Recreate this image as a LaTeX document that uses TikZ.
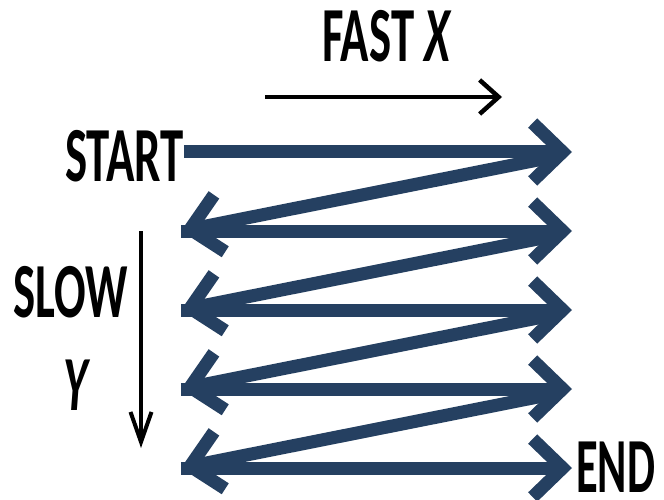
\documentclass[tikz,border=0pt]{standalone}
\usepackage{fontspec}
\setmainfont{Carlito}
\usetikzlibrary{arrows.meta}
\definecolor{scannavy}{RGB}{37,64,97}
\tikzset{>=latex,
  scanline/.style={scannavy,line width=13pt,
    -{Straight Barb[sharp,length=30pt,width=58pt]}},
  fastaxis/.style={black,line width=4.5pt,
    -{Straight Barb[sharp,length=19pt,width=34pt]}},
  slowaxis/.style={black,line width=4pt,
    -{Straight Barb[sharp,length=30pt,width=21pt]}},
  lbl/.style={font=\fontsize{78}{93}\selectfont\bfseries,inner sep=0pt,
    xscale=0.6,anchor=base west}}

\begin{document}
\begin{tikzpicture}[x=1pt,y=-1pt]
    \useasboundingbox (0,0) rectangle (664,500);
    \node[lbl] (fast) at (322,62) {FAST\hspace{17pt}\textit{X}};
    \node[lbl] (start) at (65,182) {START};
    \node[lbl] (slow) at (13,317) {SLOW};
    \node[lbl] (ylab) at (63,410) {\textit{Y}};
    \node[lbl,xscale=0.95] (end) at (576,492) {END};
    \coordinate (fx0) at (265,97);
    \coordinate (fx1) at (502,97);
    \coordinate (sy0) at (141,231);
    \coordinate (sy1) at (141,448);
    \draw[fastaxis] (fx0) -- (fx1);
    \draw[slowaxis] (sy0) -- (sy1);
    \foreach \k/\y in {1/152,2/231,3/310,4/389,5/468} {
      \coordinate (l\k) at (181,\y);
      \coordinate (r\k) at (572,\y);
      \coordinate (d\k) at (558,{\y+4});
    }
    \draw[scanline] (start.east |- r1) -- (r1);
    \foreach \k in {2,...,5}
      \draw[scanline] (l\k) -- (r\k);
    \foreach \k/\n in {1/2,2/3,3/4,4/5}
      \draw[scanline] (d\k) -- (l\n);
  \end{tikzpicture}
\end{document}
